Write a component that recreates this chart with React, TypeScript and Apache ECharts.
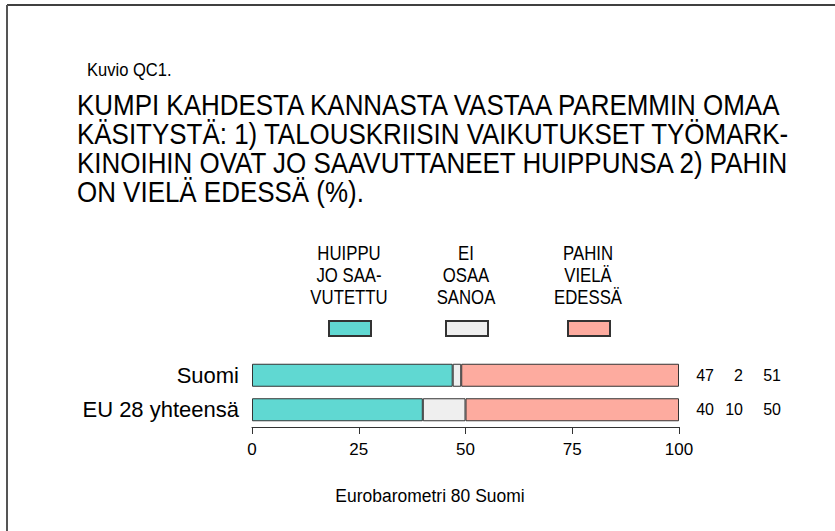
import React, { useEffect, useRef } from "react";
import * as echarts from "echarts";

const categories = ["Suomi", "EU 28 yhteensä"];
const seriesNames = ["HUIPPU\nJO SAA-\nVUTETTU", "EI\nOSAA\nSANOA", "PAHIN\nVIELÄ\nEDESSÄ"];
const peakReached = [47, 40];
const dontKnow = [2, 10];
const worstAhead = [51, 50];
const seriesColors = ["#60d8d2", "#efefef", "#fdab9f"];
const xTickInterval = 25;

const kuvio = "Kuvio QC1.";
const titleLines = [
  "KUMPI KAHDESTA KANNASTA VASTAA PAREMMIN OMAA",
  "KÄSITYSTÄ: 1) TALOUSKRIISIN VAIKUTUKSET TYÖMARK-",
  "KINOIHIN OVAT JO SAAVUTTANEET HUIPPUNSA 2) PAHIN",
  "ON VIELÄ EDESSÄ (%).",
];
const source = "Eurobarometri 80 Suomi";

export default function App() {
  const ref = useRef<HTMLDivElement>(null);
  useEffect(() => {
    if (!ref.current) return;
    const chart = echarts.init(ref.current, null, { renderer: "svg" });
    const font = "Liberation Sans, Arial, sans-serif";
    const allSeries = [peakReached, dontKnow, worstAhead];
    const legendX = [328, 445, 567];
    const graphics: any[] = [
      { type: "line", shape: { x1: 7, y1: 5, x2: 835, y2: 5 }, style: { stroke: "#000", lineWidth: 1.5 } },
      { type: "line", shape: { x1: 7, y1: 5, x2: 7, y2: 531 }, style: { stroke: "#555", lineWidth: 2 } },
      {
        type: "text", x: 87, y: 70, scaleX: 0.92,
        style: { text: kuvio, font: `18px ${font}`, fill: "#000", textVerticalAlign: "middle" },
      },
      ...titleLines.map((t, i) => ({
        type: "text", x: 77, y: 105 + i * 29, scaleX: 0.88,
        style: { text: t, font: `29.5px ${font}`, fill: "#000", textVerticalAlign: "middle" },
      })),
      ...seriesNames.map((n, i) => ({
        type: "text", x: legendX[i] + 21, y: 276, scaleX: 0.86,
        style: {
          text: n, font: `19.5px ${font}`, fill: "#000", textAlign: "center",
          textVerticalAlign: "middle", lineHeight: 22,
        },
      })),
      {
        type: "text", x: 430, y: 495, scaleX: 0.92,
        style: { text: source, font: `19px ${font}`, fill: "#000", textAlign: "center", textVerticalAlign: "middle" },
      },
    ];
    chart.setOption({
      animation: false,
      backgroundColor: "#fff",
      grid: { left: 252, width: 427, top: 358, height: 69, containLabel: false },
      legend: seriesNames.map((n, i) => ({
        data: [n],
        left: legendX[i],
        top: 320,
        itemWidth: 42,
        itemHeight: 15,
        icon: "rect",
        formatter: () => "",
        selectedMode: false,
        padding: 0,
      })),
      xAxis: {
        type: "value",
        min: 0,
        max: 100,
        interval: xTickInterval,
        axisLine: { show: true, lineStyle: { color: "#333", width: 1 } },
        axisTick: { show: true, length: 7, lineStyle: { color: "#333" } },
        axisLabel: { fontSize: 17, color: "#000", margin: 14, fontFamily: font },
        splitLine: { show: false },
      },
      yAxis: [
        {
          type: "category",
          data: categories,
          inverse: true,
          axisLine: { show: false },
          axisTick: { show: false },
          axisLabel: { fontSize: 22, color: "#000", margin: 13, fontFamily: font },
        },
        {
          type: "category",
          data: categories,
          inverse: true,
          position: "right",
          axisLine: { show: false },
          axisTick: { show: false },
          axisLabel: {
            margin: 0,
            formatter: (_v: string, idx: number) =>
              `{a|${peakReached[idx]}}{b|${dontKnow[idx]}}{c|${worstAhead[idx]}}`,
            rich: {
              a: { width: 35, align: "right", fontSize: 16, color: "#000", fontFamily: font },
              b: { width: 29, align: "right", fontSize: 16, color: "#000", fontFamily: font },
              c: { width: 38, align: "right", fontSize: 16, color: "#000", fontFamily: font },
            },
          },
        },
      ],
      series: seriesNames.map((n, i) => ({
        name: n,
        type: "bar",
        stack: "total",
        barWidth: 23,
        data: allSeries[i],
        itemStyle: { color: seriesColors[i], borderColor: "#333", borderWidth: 1 },
      })),
      graphic: graphics,
    });
    return () => chart.dispose();
  }, []);
  return (
    <div
      ref={ref}
      style={{ position: "absolute", left: 0, top: 0, width: 835, height: 531 }}
    />
  );
}
